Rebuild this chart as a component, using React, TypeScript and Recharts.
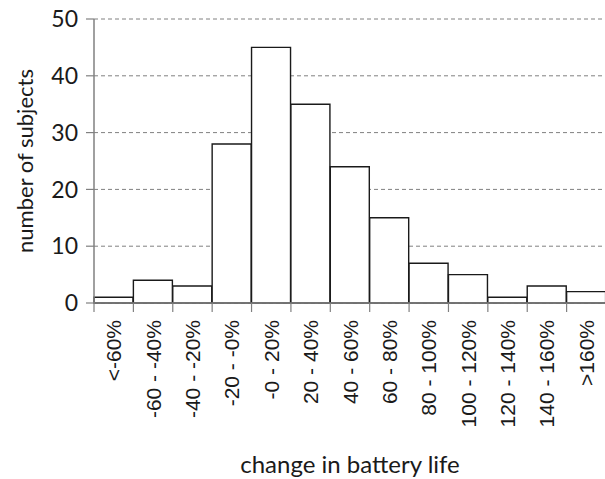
import React from 'react';
import { BarChart, Bar, XAxis, YAxis, CartesianGrid } from 'recharts';

// histogram bins and counts
const bins = [
  '<-60%', '-60 - -40%', '-40 - -20%', '-20 - -0%', '-0 - 20%', '20 - 40%', '40 - 60%',
  '60 - 80%', '80 - 100%', '100 - 120%', '120 - 140%', '140 - 160%', '>160%',
];
const subjects = [1, 4, 3, 28, 45, 35, 24, 15, 7, 5, 1, 3, 2];
const yTicks = [0, 10, 20, 30, 40, 50];

const CHART_W = 615;
const CHART_H = 479;
const MARGIN = { top: 19, right: 9, bottom: 0, left: 0 };
const Y_AXIS_W = 94;
const PLOT_W = CHART_W - MARGIN.left - MARGIN.right - Y_AXIS_W;
const BAND = PLOT_W / bins.length;

const data = bins.map((b, i) => ({ bin: b, count: subjects[i] }));

const axisGray = '#808080';
const titleFont = 'Lato, sans-serif';

// tick lines sit on the bin edges, labels are rotated under the bin centre
const BinTick = (props: any) => {
  const { x, y, payload } = props;
  const edge = x - BAND / 2;
  return (
    <g>
      <line x1={edge} y1={y} x2={edge} y2={y + 9} stroke={axisGray} strokeWidth={1.2} />
      <text
        x={x}
        y={y + 17}
        transform={`rotate(-90, ${x}, ${y + 17})`}
        textAnchor="end"
        dominantBaseline="central"
        fontFamily="'Liberation Sans', Arial, sans-serif"
        fontSize={21}
        fill="#1a1a1a"
      >
        {payload.value}
      </text>
    </g>
  );
};

export default function App() {
  return (
    <div style={{ position: 'absolute', left: 0, top: 0, width: 605, height: 479, overflow: 'hidden', background: '#fff' }}>
      <BarChart width={CHART_W} height={CHART_H} data={data} margin={MARGIN} barCategoryGap={0}>
        <CartesianGrid vertical={false} stroke={axisGray} strokeDasharray="4 3" />
        <XAxis
          dataKey="bin"
          height={176}
          interval={0}
          tickSize={0}
          tickMargin={0}
          tickLine={false}
          axisLine={{ stroke: axisGray, strokeWidth: 1.5 }}
          tick={<BinTick />}
          label={{
            value: 'change in battery life',
            position: 'insideBottom',
            offset: 6,
            style: { fontFamily: titleFont, fontSize: 24, fill: '#1a1a1a' },
          }}
        />
        <YAxis
          width={Y_AXIS_W}
          domain={[0, 50]}
          ticks={yTicks}
          interval={0}
          tickSize={8}
          tickMargin={8}
          tickLine={{ stroke: axisGray, strokeWidth: 1.2 }}
          axisLine={{ stroke: axisGray, strokeWidth: 1.5 }}
          tick={{ fontFamily: titleFont, fontSize: 23, fill: '#1a1a1a' }}
          label={{
            value: 'number of subjects',
            angle: -90,
            position: 'center',
            dx: -22,
            style: { fontFamily: titleFont, fontSize: 22, fill: '#1a1a1a', textAnchor: 'middle' },
          }}
        />
        <Bar dataKey="count" fill="#fff" stroke="#1a1a1a" strokeWidth={1.4} isAnimationActive={false} />
      </BarChart>
    </div>
  );
}
